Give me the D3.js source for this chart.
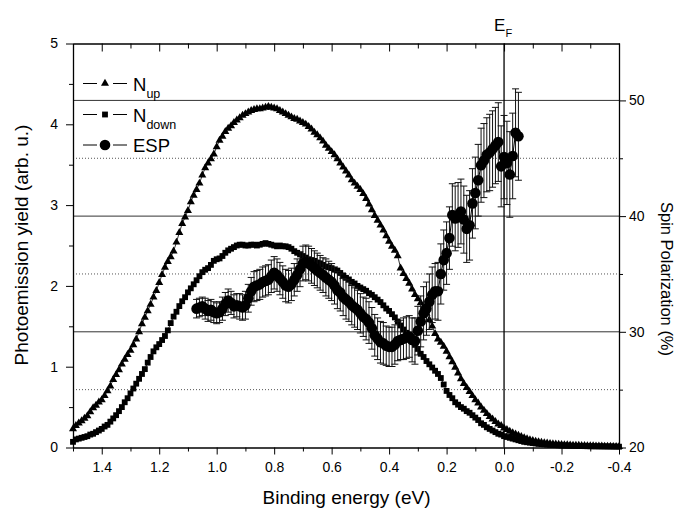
<!DOCTYPE html>
<html>
<head>
<meta charset="utf-8">
<script src="https://cdn.jsdelivr.net/npm/d3@7"></script>
<style>
  body { margin: 0; background: #fff; }
  svg { display: block; }
  text { font-family: "Liberation Sans", Arial, sans-serif; fill: #000; }
</style>
</head>
<body>
<svg width="682" height="512"></svg>
<script>
// binding energy grid for N_up / N_down: 1.50 eV down to -0.40 eV in 0.01 eV steps
const specStart = 1.5, specStep = 0.01;

const nUp = [
  0.23, 0.27, 0.30, 0.33, 0.36, 0.39, 0.44, 0.49, 0.52, 0.56,
  0.59, 0.64, 0.70, 0.76, 0.84, 0.90, 0.96, 1.03, 1.09, 1.15,
  1.20, 1.27, 1.34, 1.43, 1.53, 1.61, 1.69, 1.77, 1.86, 1.94,
  2.04, 2.14, 2.23, 2.30, 2.36, 2.43, 2.54, 2.66, 2.77, 2.85,
  2.93, 3.04, 3.12, 3.19, 3.27, 3.37, 3.46, 3.52, 3.57, 3.63,
  3.72, 3.80, 3.85, 3.91, 3.95, 3.98, 4.02, 4.05, 4.08, 4.11,
  4.13, 4.15, 4.17, 4.18, 4.19, 4.19, 4.20, 4.21, 4.22, 4.21,
  4.20, 4.19, 4.17, 4.15, 4.13, 4.11, 4.09, 4.07, 4.06, 4.04,
  4.02, 4.00, 3.97, 3.94, 3.90, 3.87, 3.83, 3.79, 3.74, 3.70,
  3.66, 3.62, 3.57, 3.52, 3.47, 3.42, 3.37, 3.31, 3.27, 3.23,
  3.19, 3.14, 3.08, 3.01, 2.94, 2.87, 2.81, 2.75, 2.69, 2.62,
  2.55, 2.49, 2.44, 2.37, 2.22, 2.15, 2.09, 2.03, 1.96, 1.89,
  1.84, 1.79, 1.74, 1.66, 1.58, 1.50, 1.41, 1.34, 1.30, 1.25,
  1.19, 1.12, 1.06, 0.99, 0.92, 0.85, 0.79, 0.74, 0.69, 0.64,
  0.59, 0.55, 0.50, 0.46, 0.42, 0.38, 0.35, 0.32, 0.29, 0.27,
  0.24, 0.22, 0.20, 0.18, 0.165, 0.15, 0.135, 0.12, 0.105, 0.095,
  0.085, 0.077, 0.07, 0.064, 0.058, 0.053, 0.049, 0.045, 0.041, 0.038,
  0.035, 0.033, 0.031, 0.029, 0.027, 0.026, 0.025, 0.023, 0.022, 0.021,
  0.020, 0.019, 0.018, 0.017, 0.016, 0.015, 0.014, 0.013, 0.012, 0.011,
  0.010
];

const nDown = [
  0.07, 0.10, 0.11, 0.12, 0.13, 0.14, 0.16, 0.17, 0.19, 0.21,
  0.23, 0.26, 0.28, 0.32, 0.36, 0.40, 0.45, 0.50, 0.56, 0.61,
  0.67, 0.73, 0.79, 0.85, 0.91, 0.97, 1.05, 1.12, 1.19, 1.24,
  1.28, 1.33, 1.38, 1.45, 1.54, 1.62, 1.68, 1.75, 1.81, 1.86,
  1.92, 1.97, 2.02, 2.07, 2.12, 2.17, 2.20, 2.22, 2.26, 2.31,
  2.33, 2.34, 2.37, 2.41, 2.44, 2.46, 2.48, 2.50, 2.51, 2.51,
  2.50, 2.50, 2.51, 2.51, 2.50, 2.51, 2.52, 2.53, 2.52, 2.51,
  2.50, 2.49, 2.50, 2.49, 2.49, 2.48, 2.46, 2.43, 2.41, 2.39,
  2.37, 2.35, 2.33, 2.32, 2.31, 2.29, 2.28, 2.26, 2.24, 2.23,
  2.22, 2.20, 2.19, 2.16, 2.13, 2.10, 2.08, 2.05, 2.03, 2.00,
  1.98, 1.96, 1.94, 1.91, 1.89, 1.86, 1.83, 1.80, 1.76, 1.72,
  1.69, 1.65, 1.61, 1.56, 1.51, 1.46, 1.42, 1.37, 1.32, 1.27,
  1.22, 1.16, 1.12, 1.07, 1.03, 0.99, 0.95, 0.91, 0.86, 0.78,
  0.70, 0.65, 0.61, 0.56, 0.53, 0.50, 0.48, 0.45, 0.43, 0.40,
  0.37, 0.34, 0.30, 0.28, 0.25, 0.23, 0.21, 0.19, 0.17, 0.16,
  0.14, 0.13, 0.12, 0.11, 0.10, 0.09, 0.08, 0.07, 0.065, 0.06,
  0.055, 0.05, 0.045, 0.042, 0.039, 0.036, 0.033, 0.031, 0.029, 0.027,
  0.025, 0.024, 0.023, 0.022, 0.021, 0.020, 0.019, 0.018, 0.017, 0.016,
  0.015, 0.015, 0.014, 0.014, 0.013, 0.013, 0.012, 0.012, 0.011, 0.011,
  0.010
];

// ESP: 1.07 eV down to -0.05 eV in 0.01 eV steps
const espStart = 1.07, espStep = 0.01;

const espValue = [
  32.0, 32.1, 32.2, 32.0, 31.8, 31.9, 31.7, 31.6, 31.7, 32.0,
  32.4, 32.7, 32.5, 32.2, 32.3, 32.2, 32.1, 32.3, 32.9, 33.5,
  33.9, 34.0, 34.1, 34.3, 34.4, 34.5, 34.8, 35.1, 34.9, 34.6,
  34.3, 34.0, 33.9, 34.1, 34.5, 34.9, 35.4, 35.9, 36.0, 35.9,
  35.7, 35.5, 35.3, 35.1, 34.9, 34.7, 34.5, 34.3, 34.0, 33.6,
  33.4, 33.0, 32.8, 32.6, 32.3, 32.1, 31.9, 31.6, 31.3, 31.1,
  30.8, 30.3, 29.7, 29.4, 29.1, 29.0, 28.8, 28.7, 28.7, 28.9,
  29.2, 29.3, 29.4, 29.5, 29.6, 29.3, 29.2, 30.1, 30.9, 31.6,
  32.0, 32.6, 33.2, 33.5, 33.5, 35.0, 36.2, 36.8, 38.1, 40.1,
  39.8, 40.1, 40.4, 39.7, 38.9, 39.2, 41.1, 42.0, 43.1, 44.4,
  44.8, 45.3, 45.5, 45.8, 46.1, 46.4, 44.3, 45.1, 44.6, 43.6,
  45.2, 47.2, 46.9
];

const espError = [
  0.8, 0.8, 0.8, 0.9, 0.9, 0.9, 0.9, 0.9, 0.9, 1.0,
  1.0, 1.0, 1.0, 1.0, 1.0, 1.1, 1.1, 1.2, 1.2, 1.2,
  1.3, 1.3, 1.3, 1.3, 1.3, 1.3, 1.4, 1.4, 1.4, 1.4,
  1.4, 1.4, 1.4, 1.4, 1.4, 1.4, 1.5, 1.5, 1.5, 1.5,
  1.5, 1.5, 1.5, 1.5, 1.5, 1.6, 1.6, 1.6, 1.6, 1.6,
  1.6, 1.6, 1.7, 1.7, 1.7, 1.7, 1.7, 1.7, 1.7, 1.8,
  1.8, 1.8, 1.8, 1.8, 1.8, 1.8, 1.7, 1.7, 1.7, 1.7,
  1.7, 1.7, 1.8, 1.8, 1.8, 1.9, 2.0, 2.1, 2.2, 2.3,
  2.3, 2.4, 2.4, 2.4, 2.5, 2.6, 2.6, 2.7, 2.7, 2.7,
  2.8, 2.8, 2.8, 2.9, 2.9, 3.0, 3.0, 3.1, 3.1, 3.2,
  3.2, 3.2, 3.3, 3.3, 3.3, 3.4, 3.5, 3.6, 3.6, 3.7,
  3.7, 3.8, 3.8
];

const xMajor = [1.4, 1.2, 1.0, 0.8, 0.6, 0.4, 0.2, 0.0, -0.2, -0.4];
const xMinor = [1.5, 1.3, 1.1, 0.9, 0.7, 0.5, 0.3, 0.1, -0.1, -0.3];
const yMajor = [0, 1, 2, 3, 4, 5];
const yMinor = [0.5, 1.5, 2.5, 3.5, 4.5];
const pMajor = [20, 30, 40, 50];
const pMinor = [25, 35, 45];

const svg = d3.select("svg");
const mLeft = 73, mRight = 619, mTop = 43.5, mBottom = 447.5;

const x = d3.scaleLinear().domain([1.5, -0.4]).range([mLeft, mRight]);
const y = d3.scaleLinear().domain([0, 5]).range([mBottom, mTop]);
const yR = d3.scaleLinear().domain([20, 54.92]).range([mBottom, mTop]);

const upData = nUp.map((v, i) => ({e: specStart - i * specStep, v}));
const downData = nDown.map((v, i) => ({e: specStart - i * specStep, v}));
const espData = espValue.map((v, i) => ({e: espStart - i * espStep, v, err: espError[i]}));

// horizontal reference lines on the polarization scale
svg.append("g").selectAll("line")
  .data(pMajor.filter(p => p > 20))
  .join("line")
  .attr("x1", mLeft).attr("x2", mRight)
  .attr("y1", d => yR(d)).attr("y2", d => yR(d))
  .attr("stroke", "#333").attr("stroke-width", 1);

svg.append("g").selectAll("line")
  .data(pMinor)
  .join("line")
  .attr("x1", mLeft).attr("x2", mRight)
  .attr("y1", d => yR(d)).attr("y2", d => yR(d))
  .attr("stroke", "#555").attr("stroke-width", 1)
  .attr("stroke-dasharray", "1,2");

// Fermi level
svg.append("line")
  .attr("x1", x(0)).attr("x2", x(0))
  .attr("y1", mTop).attr("y2", mBottom)
  .attr("stroke", "#000").attr("stroke-width", 1.3);

const line = d3.line().x(d => x(d.e)).y(d => y(d.v));
const lineR = d3.line().x(d => x(d.e)).y(d => yR(d.v));

const tri = d3.symbol().type(d3.symbolTriangle).size(28);
const sq = d3.symbol().type(d3.symbolSquare).size(34);

// N_up
svg.append("path").datum(upData)
  .attr("d", line).attr("fill", "none")
  .attr("stroke", "#000").attr("stroke-width", 0.8);
svg.append("g").selectAll("path")
  .data(upData)
  .join("path")
  .attr("d", tri)
  .attr("transform", d => `translate(${x(d.e)},${y(d.v)})`)
  .attr("fill", "#000");

// N_down
svg.append("path").datum(downData)
  .attr("d", line).attr("fill", "none")
  .attr("stroke", "#000").attr("stroke-width", 0.8);
svg.append("g").selectAll("path")
  .data(downData)
  .join("path")
  .attr("d", sq)
  .attr("transform", d => `translate(${x(d.e)},${y(d.v)})`)
  .attr("fill", "#000");

// ESP with error bars
const bars = svg.append("g").attr("stroke", "#111").attr("stroke-width", 1);
bars.selectAll("line.v")
  .data(espData)
  .join("line").attr("class", "v")
  .attr("x1", d => x(d.e)).attr("x2", d => x(d.e))
  .attr("y1", d => yR(d.v - d.err)).attr("y2", d => yR(d.v + d.err));
bars.selectAll("line.t")
  .data(espData)
  .join("line").attr("class", "t")
  .attr("x1", d => x(d.e) - 3.5).attr("x2", d => x(d.e) + 3.5)
  .attr("y1", d => yR(d.v + d.err)).attr("y2", d => yR(d.v + d.err));
bars.selectAll("line.b")
  .data(espData)
  .join("line").attr("class", "b")
  .attr("x1", d => x(d.e) - 3.5).attr("x2", d => x(d.e) + 3.5)
  .attr("y1", d => yR(d.v - d.err)).attr("y2", d => yR(d.v - d.err));

svg.append("path").datum(espData)
  .attr("d", lineR).attr("fill", "none")
  .attr("stroke", "#000").attr("stroke-width", 1);
svg.append("g").selectAll("circle")
  .data(espData)
  .join("circle")
  .attr("cx", d => x(d.e)).attr("cy", d => yR(d.v))
  .attr("r", 5.3)
  .attr("fill", "#000");

// axes
const fmt = d => d.toFixed(1);
function styleAxis(g) {
  g.selectAll("path.domain").attr("stroke-width", 1.3);
  g.selectAll("text").style("font-size", "14px");
}

svg.append("g").attr("transform", `translate(0,${mBottom})`)
  .call(d3.axisBottom(x).tickValues(xMajor).tickFormat(fmt).tickSize(7).tickSizeOuter(0).tickPadding(8))
  .call(styleAxis);
svg.append("g").attr("transform", `translate(0,${mBottom})`)
  .call(d3.axisBottom(x).tickValues(xMinor).tickFormat("").tickSize(4).tickSizeOuter(0))
  .call(g => g.select(".domain").remove());

svg.append("g").attr("transform", `translate(0,${mTop})`)
  .call(d3.axisTop(x).tickValues(xMajor).tickFormat("").tickSize(-8).tickSizeOuter(0))
  .call(styleAxis);
svg.append("g").attr("transform", `translate(0,${mTop})`)
  .call(d3.axisTop(x).tickValues(xMinor).tickFormat("").tickSize(-5).tickSizeOuter(0))
  .call(g => g.select(".domain").remove());

svg.append("g").attr("transform", `translate(${mLeft},0)`)
  .call(d3.axisLeft(y).tickValues(yMajor).tickFormat(d3.format("d")).tickSize(7).tickSizeOuter(0).tickPadding(8))
  .call(styleAxis);
svg.append("g").attr("transform", `translate(${mLeft},0)`)
  .call(d3.axisLeft(y).tickValues(yMinor).tickFormat("").tickSize(4).tickSizeOuter(0))
  .call(g => g.select(".domain").remove());

svg.append("g").attr("transform", `translate(${mRight},0)`)
  .call(d3.axisRight(yR).tickValues(pMajor).tickFormat(d3.format("d")).tickSize(7).tickSizeOuter(0).tickPadding(3))
  .call(styleAxis)
  .call(g => g.select(".domain").attr("d", `M0.5,${mBottom}V${mTop}`));
svg.append("g").attr("transform", `translate(${mRight},0)`)
  .call(d3.axisRight(yR).tickValues(pMinor).tickFormat("").tickSize(4).tickSizeOuter(0))
  .call(g => g.select(".domain").remove());

// axis titles
svg.append("text")
  .attr("transform", `translate(28,245) rotate(-90)`)
  .attr("text-anchor", "middle")
  .style("font-size", "19px")
  .text("Photoemission yield (arb. u.)");

svg.append("text")
  .attr("x", 346.5).attr("y", 504)
  .attr("text-anchor", "middle")
  .style("font-size", "19px")
  .text("Binding energy (eV)");

svg.append("text")
  .attr("transform", `translate(661,279) rotate(90)`)
  .attr("text-anchor", "middle")
  .style("font-size", "16.5px")
  .text("Spin Polarization (%)");

// E_F label
const ef = svg.append("text").attr("x", x(0) - 10).attr("y", 31).style("font-size", "17px");
ef.append("tspan").text("E");
ef.append("tspan").attr("dy", 6).style("font-size", "11px").text("F");

// legend
const legend = [
  {name: "N", sub: "up", sym: "tri", cy: 83.5},
  {name: "N", sub: "down", sym: "sq", cy: 114.5},
  {name: "ESP", sub: "", sym: "circ", cy: 145}
];
const lg = svg.append("g");
legend.forEach(d => {
  lg.append("line").attr("x1", 83).attr("x2", 97).attr("y1", d.cy).attr("y2", d.cy)
    .attr("stroke", "#000").attr("stroke-width", 1);
  lg.append("line").attr("x1", 113).attr("x2", 127).attr("y1", d.cy).attr("y2", d.cy)
    .attr("stroke", "#000").attr("stroke-width", 1);
  if (d.sym === "circ") {
    lg.append("circle").attr("cx", 105).attr("cy", d.cy).attr("r", 5.3).attr("fill", "#000");
  } else {
    lg.append("path").attr("d", d.sym === "tri" ? tri() : sq())
      .attr("transform", `translate(105,${d.cy})`).attr("fill", "#000");
  }
  const t = lg.append("text").attr("x", 133).attr("y", d.cy + 7).style("font-size", "18.5px");
  t.append("tspan").text(d.name);
  if (d.sub) t.append("tspan").attr("dy", 7).style("font-size", "12.5px").text(d.sub);
});
</script>
</body>
</html>
